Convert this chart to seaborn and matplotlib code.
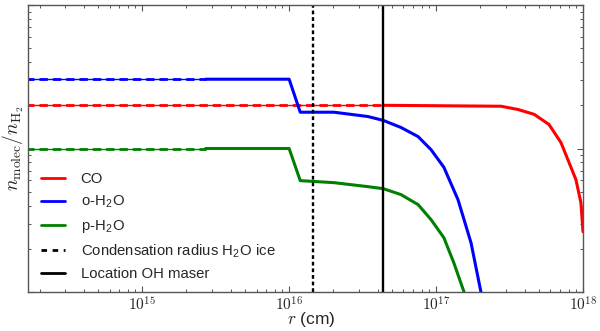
import numpy as np
import pandas as pd
import matplotlib
matplotlib.use("Agg")
import matplotlib.pyplot as plt
import matplotlib.ticker as mticker
from matplotlib.lines import Line2D
import seaborn as sns

# ---- data ----
co_r = [1.0e14, 4.4e16, 2.77e17, 3.61e17, 4.65e17, 5.87e17, 7.08e17, 8.28e17, 8.95e17, 9.68e17, 1.0e18]
co_v = [2.0e-4, 2.0e-4, 1.97e-4, 1.87e-4, 1.73e-4, 1.47e-4, 1.10e-4, 7.4e-5, 6.07e-5, 4.19e-5, 2.63e-5]
co_dash_end = 4.4e16

oh2o_r = [1.0e14, 2.7e15, 1.0e16, 1.19e16, 2.02e16, 3.44e16, 4.37e16, 5.78e16, 7.55e16, 9.25e16, 1.13e17, 1.41e17, 1.73e17, 2.02e17, 2.3e17]
oh2o_v = [3.04e-4, 3.04e-4, 3.04e-4, 1.79e-4, 1.79e-4, 1.67e-4, 1.57e-4, 1.40e-4, 1.21e-4, 9.8e-5, 7.4e-5, 4.4e-5, 2.2e-5, 1.0e-5, 4.0e-6]
oh2o_dash_end = 2.7e15

ph2o_r = [1.0e14, 2.7e15, 1.0e16, 1.19e16, 2.02e16, 3.44e16, 4.37e16, 5.78e16, 7.55e16, 9.25e16, 1.13e17, 1.32e17, 1.55e17, 1.8e17]
ph2o_v = [1.0e-4, 1.0e-4, 1.0e-4, 5.97e-5, 5.78e-5, 5.42e-5, 5.25e-5, 4.77e-5, 4.06e-5, 3.19e-5, 2.39e-5, 1.6e-5, 1.0e-5, 5.0e-6]
ph2o_dash_end = 2.7e15

cond_radius = 1.46e16
oh_maser = 4.36e16

labels = ["CO", "o-H$_\\mathregular{2}$O", "p-H$_\\mathregular{2}$O",
          "Condensation radius H$_\\mathregular{2}$O ice", "Location OH maser"]
xtick_vals = [1e15, 1e16, 1e17, 1e18]

# ---- style ----
sns.set_style("ticks", {"xtick.direction": "in", "ytick.direction": "in"})
plt.rcParams["font.family"] = ["Liberation Sans", "DejaVu Sans"]
plt.rcParams["mathtext.fontset"] = "cm"

fig = plt.figure(figsize=(6.0, 3.31), dpi=100)
ax = fig.add_axes([28 / 600, 39 / 331, 555 / 600, 287 / 331])

series = [(co_r, co_v, co_dash_end, "#ff0000"),
          (oh2o_r, oh2o_v, oh2o_dash_end, "#0000ff"),
          (ph2o_r, ph2o_v, ph2o_dash_end, "#008000")]

for r, v, dend, col in series:
    df = pd.DataFrame({"r": r, "v": v})
    left = df[df.r <= dend]
    right = df[df.r >= dend]
    # thin underlying line + thick dashes for the inner part
    sns.lineplot(data=left, x="r", y="v", color=col, lw=1.0, sort=False,
                 estimator=None, ax=ax, legend=False)
    sns.lineplot(data=left, x="r", y="v", color=col, lw=2.0, sort=False,
                 estimator=None, ax=ax, legend=False, linestyle=(0, (3.0, 1.8)))
    sns.lineplot(data=right, x="r", y="v", color=col, lw=2.2, sort=False,
                 estimator=None, ax=ax, legend=False)

ax.axvline(cond_radius, color="black", lw=1.7, linestyle=(0, (1.6, 1.2)))
ax.axvline(oh_maser, color="black", lw=1.7)

ax.set_xscale("log")
ax.set_yscale("log")
ax.set_xlim(1.67e14, 1e18)
ax.set_ylim(1e-5, 1e-3)

ax.xaxis.set_major_locator(mticker.FixedLocator(xtick_vals))
ax.xaxis.set_major_formatter(mticker.FuncFormatter(lambda x, p: r"$10^{%d}$" % round(np.log10(x))))
ax.xaxis.set_minor_locator(mticker.LogLocator(base=10, subs=np.arange(2, 10)))
ax.xaxis.set_minor_formatter(mticker.NullFormatter())
ax.yaxis.set_major_formatter(mticker.NullFormatter())
ax.yaxis.set_minor_formatter(mticker.NullFormatter())
ax.yaxis.set_minor_locator(mticker.LogLocator(base=10, subs=np.arange(2, 10)))

ax.tick_params(which="both", top=True, right=True, direction="in", color="#555555")
ax.tick_params(which="major", length=4, width=0.8, labelsize=11, pad=2.5)
ax.tick_params(which="minor", length=2.2, width=0.7)
for s in ax.spines.values():
    s.set_color("#555555")
    s.set_linewidth(1.0)

ax.set_xlabel(r"$r$ (cm)", fontsize=12.5)
ax.xaxis.set_label_coords(0.511, -0.064)
ax.set_ylabel(r"$n_{\rm molec}/n_{\rm H_2}$", fontsize=14)
ax.yaxis.set_label_coords(-0.004, 0.5)

handles = [Line2D([], [], color="#ff0000", lw=2.0),
           Line2D([], [], color="#0000ff", lw=2.0),
           Line2D([], [], color="#008000", lw=2.0),
           Line2D([], [], color="black", lw=2.0, linestyle=(0, (2, 2))),
           Line2D([], [], color="black", lw=2.0)]
ax.legend(handles, labels, loc="lower left", frameon=False, fontsize=10.7,
          handlelength=1.6, handletextpad=1.07, labelspacing=0.5,
          borderaxespad=0.0, borderpad=0.4, bbox_to_anchor=(0.0126, 0.017))

fig.savefig("out.png", dpi=100)
